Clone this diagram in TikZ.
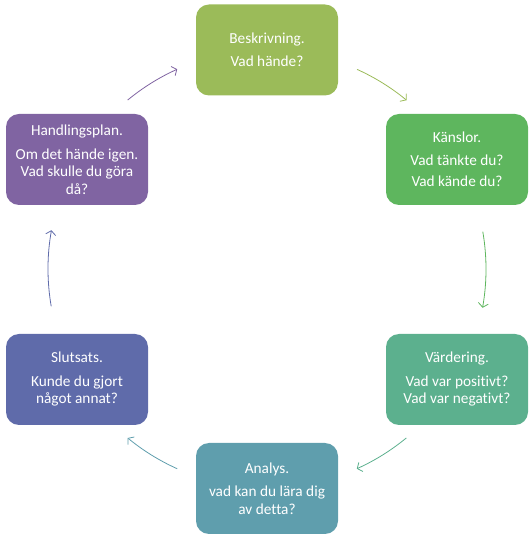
\documentclass[tikz,border=0pt]{standalone}
\usepackage{fontspec}
\setmainfont{Carlito}[Ligatures=NoCommon]
\usetikzlibrary{arrows.meta}
\definecolor{cA}{HTML}{9BBB59}
\definecolor{cB}{HTML}{5EB65E}
\definecolor{cC}{HTML}{5CB08E}
\definecolor{cD}{HTML}{5F9EAD}
\definecolor{cE}{HTML}{5F6BAA}
\definecolor{cF}{HTML}{8064A2}
\begin{document}
\begin{tikzpicture}[x=1pt,y=1pt,
  box/.style={rounded corners=13pt, minimum width=142pt, minimum height=91pt,
    text=white, align=center, font=\fontsize{15.3}{17.5}\selectfont, inner sep=0pt},
  cyc/.style={line width=0.8pt, -{Straight Barb[length=4pt,width=10pt]}}]
\useasboundingbox (0,0) rectangle (531,538);
\coordinate (c) at (267,269);
\node[box, fill=cA] (b1) at (267,488) {Beskrivning.\\[5.5pt]Vad hände?};
\node[box, fill=cB] (b2) at (457,378.5) {Känslor.\\[5pt]Vad tänkte du?\\[4pt]Vad kände du?};
\node[box, fill=cC] (b3) at (457,158.5) {Värdering.\\[6pt]Vad var positivt?\\Vad var negativt?};
\node[box, fill=cD] (b4) at (267,49.5) {Analys.\\[6pt]vad kan du lära dig\\av detta?};
\node[box, fill=cE] (b5) at (77,158.5) {Slutsats.\\[6pt]Kunde du gjort\\något annat?};
\node[box, fill=cF] (b6) at (77,378.5) {Handlingsplan.\\[6pt]Om det hände igen.\\Vad skulle du göra\\då?};
\draw[cyc, cA] ([shift={(65.7:219)}]c) arc[start angle=65.7, end angle=50.4, radius=219];
\draw[cyc, cB] ([shift={(9.8:219)}]c) arc[start angle=9.8, end angle=-10.2, radius=219];
\draw[cyc, cC] ([shift={(-50.5:219)}]c) arc[start angle=-50.5, end angle=-65.8, radius=219];
\draw[cyc, cD] ([shift={(-114.2:219)}]c) arc[start angle=-114.2, end angle=-129.5, radius=219];
\draw[cyc, cE] ([shift={(189.8:219)}]c) arc[start angle=189.8, end angle=169.8, radius=219];
\draw[cyc, cF] ([shift={(129.5:219)}]c) arc[start angle=129.5, end angle=114.2, radius=219];
\end{tikzpicture}
\end{document}
